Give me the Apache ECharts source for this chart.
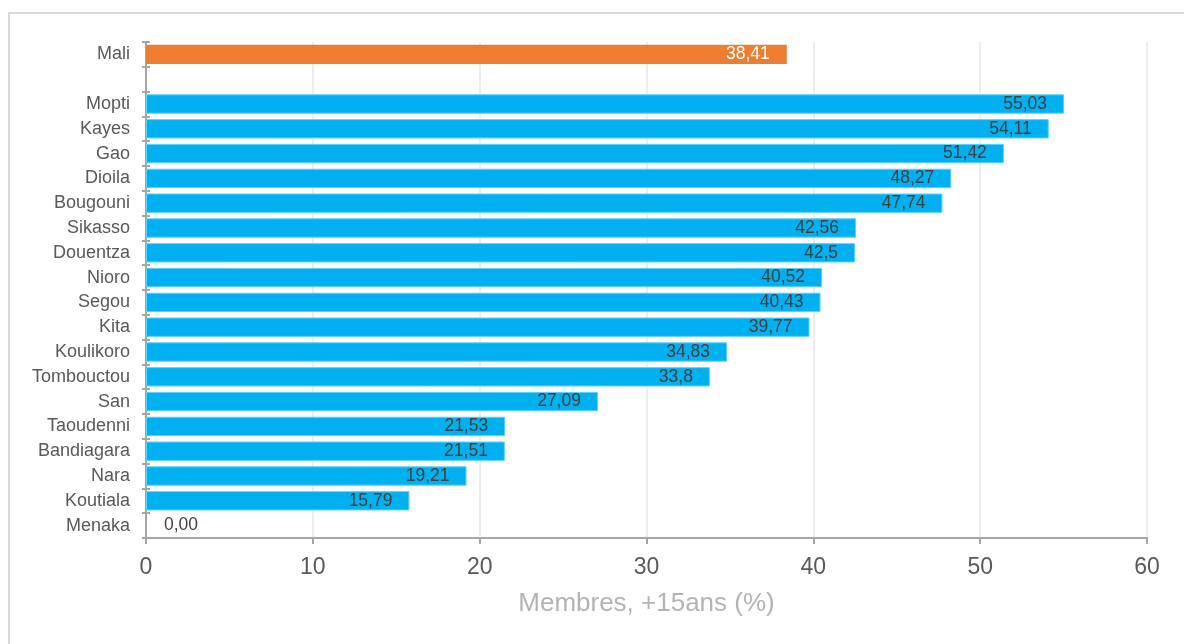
<!DOCTYPE html>
<html><head><meta charset="utf-8">
<script src="https://cdn.jsdelivr.net/npm/echarts@6/dist/echarts.min.js"></script>
<style>html,body{margin:0;padding:0;background:#fff}#c{width:1184px;height:644px}</style>
</head><body><div id="c"></div>
<script>
var categories = ['Mali','','Mopti','Kayes','Gao','Dioila','Bougouni','Sikasso','Douentza','Nioro','Segou','Kita','Koulikoro','Tombouctou','San','Taoudenni','Bandiagara','Nara','Koutiala','Menaka'];
var values = [38.41,null,55.03,54.11,51.42,48.27,47.74,42.56,42.5,40.52,40.43,39.77,34.83,33.8,27.09,21.53,21.51,19.21,15.79,0];
var labels = ['38,41','','55,03','54,11','51,42','48,27','47,74','42,56','42,5','40,52','40,43','39,77','34,83','33,8','27,09','21,53','21,51','19,21','15,79','0,00'];
var xTicks = [0,10,20,30,40,50,60];

var font = 'Liberation Sans, Arial, sans-serif';
var data = values.map(function(v,i){
  if (v === null) return null;
  var item = {value: v, label: {formatter: labels[i]}};
  if (i === 0) {
    item.itemStyle = {color:'#ed7d31', borderWidth:0};
    item.label.color = '#ffffff';
  }
  if (v === 0) {
    item.itemStyle = {borderWidth:0, color:'rgba(0,0,0,0)'};
    item.label.position = 'right';
    item.label.distance = 18;
  }
  return item;
});

var axisCommon = {
  type:'category', data:categories, inverse:true, position:'left'
};

var chart = echarts.init(document.getElementById('c'));
chart.setOption({
  animation:false,
  graphic:[{type:'rect', shape:{x:9,y:13,width:1300,height:800}, style:{fill:'none', stroke:'#d9d9d9', lineWidth:2}, z:-1}],
  grid:{left:146, right:37, top:42, bottom:106},
  xAxis:{type:'value', min:xTicks[0], max:xTicks[xTicks.length-1], interval:10,
    name:'Membres, +15ans (%)', nameLocation:'middle', nameGap:53,
    nameTextStyle:{color:'#b3b3b3', fontSize:26, fontFamily:font},
    axisLine:{show:true, lineStyle:{color:'#a6a6a6', width:2}},
    axisTick:{show:true, length:6, lineStyle:{color:'#a6a6a6', width:2}},
    axisLabel:{color:'#595959', fontSize:23, fontFamily:font, margin:18},
    splitLine:{show:true, lineStyle:{color:'#ededed', width:2}}},
  yAxis:[
    Object.assign({}, axisCommon, {
      axisLine:{show:true, lineStyle:{color:'#a6a6a6', width:2}},
      axisTick:{show:true, length:4, lineStyle:{color:'#a6a6a6', width:2}},
      axisLabel:{color:'#595959', fontSize:18, fontFamily:font, margin:16},
      splitLine:{show:false}}),
    Object.assign({}, axisCommon, {
      axisLine:{show:false},
      axisTick:{show:true, inside:true, length:4, lineStyle:{color:'#a6a6a6', width:2}},
      axisLabel:{show:false},
      splitLine:{show:false}})
  ],
  series:[{type:'bar', data:data, barCategoryGap:'22%', yAxisIndex:0,
    itemStyle:{color:'#00b0f0', borderColor:'#5cd0f7', borderWidth:1},
    label:{show:true, position:'insideRight', distance:17, color:'#404040', fontSize:17.5, fontFamily:font}}]
});
</script></body></html>
